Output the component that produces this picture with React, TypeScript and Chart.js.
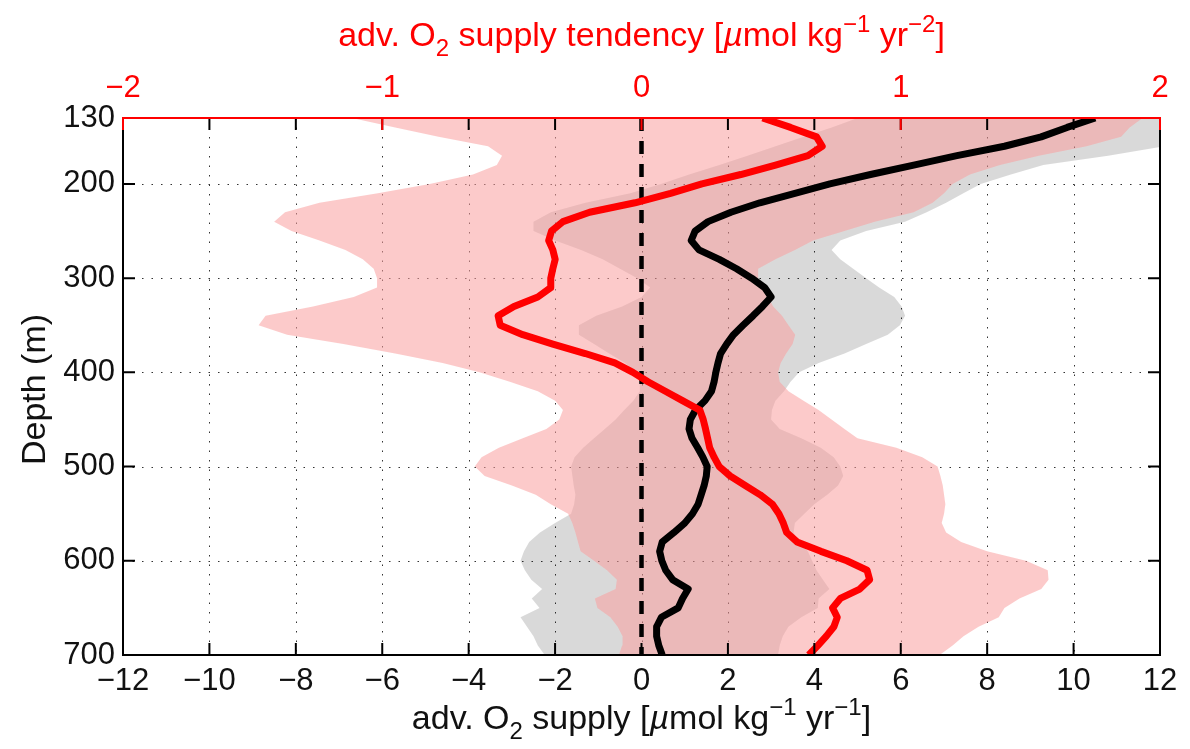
import React, { useEffect, useRef } from "react";
import { Chart, registerables } from "chart.js";

Chart.register(...registerables);

const FONT = '"Liberation Sans", Arial, Helvetica, sans-serif';
Chart.defaults.font.family = FONT;

// depth levels (m)
const depth = [
  130, 140, 150, 160, 170, 180, 190, 200, 210, 220, 230, 240, 250, 260, 270, 280, 290, 300, 310, 320,
  330, 340, 350, 360, 370, 380, 390, 400, 410, 420, 430, 440, 450, 460, 470, 480, 490, 500, 510, 520,
  530, 540, 550, 560, 570, 580, 590, 600, 610, 620, 630, 640, 650, 660, 670, 680, 690, 700,
];

// adv. O2 supply [umol kg-1 yr-1] (bottom axis): mean and spread
const supplyMean = [
  10.5, 9.85, 9.25, 8.4, 7.3, 6.3, 5.3, 4.36, 3.55, 2.74, 2.07, 1.54, 1.24, 1.15, 1.33, 1.8, 2.2, 2.55, 2.85, 3.0,
  2.8, 2.58, 2.35, 2.13, 1.97, 1.83, 1.77, 1.72, 1.68, 1.62, 1.47, 1.25, 1.13, 1.1, 1.17, 1.3, 1.42, 1.52, 1.5, 1.45,
  1.38, 1.31, 1.18, 1.0, 0.75, 0.48, 0.42, 0.47, 0.56, 0.72, 1.08, 0.95, 0.85, 0.46, 0.35, 0.35, 0.4, 0.48,
];
const supplyLo = [
  5.0, 4.4, 3.75, 3.1, 2.45, 1.8, 1.1, 0.45, -0.26, -1.3, -2.1, -2.5, -2.5, -2.0, -1.4, -0.9, -0.5, -0.1, 0.2, 0.0,
  -0.45, -1.05, -1.45, -1.45, -1.1, -0.75, -0.38, -0.15, -0.04, -0.04, -0.19, -0.4, -0.6, -0.85, -1.1, -1.35, -1.55, -1.63, -1.6, -1.57,
  -1.53, -1.56, -1.63, -2.0, -2.35, -2.6, -2.72, -2.8, -2.7, -2.55, -2.3, -2.54, -2.36, -2.8, -2.65, -2.5, -2.4, -2.24,
];
const supplyHi = [
  12.5, 12.4, 12.2, 12.1, 10.8, 9.3, 8.55, 7.85, 7.45, 7.05, 6.6, 6.1, 5.2, 4.6, 4.4, 4.6, 4.9, 5.2, 5.5, 5.85,
  6.02, 6.1, 5.98, 5.7, 5.2, 4.7, 4.1, 3.65, 3.45, 3.3, 3.1, 3.02, 3.0, 3.2, 3.7, 4.15, 4.45, 4.6, 4.67, 4.55,
  4.3, 4.0, 3.77, 3.55, 3.52, 3.65, 3.85, 3.95, 4.05, 4.2, 4.35, 4.1, 4.08, 3.7, 3.4, 3.27, 3.2, 3.16,
];

// adv. O2 supply tendency [umol kg-1 yr-2] (top axis): mean and spread
const tendMean = [
  0.467, 0.575, 0.675, 0.697, 0.642, 0.517, 0.383, 0.233, 0.112, -0.025, -0.2, -0.303, -0.347, -0.358, -0.342, -0.333, -0.342, -0.35, -0.35, -0.4,
  -0.492, -0.553, -0.545, -0.458, -0.342, -0.217, -0.103, -0.033, 0.025, 0.092, 0.158, 0.225, 0.238, 0.247, 0.255, 0.263, 0.28, 0.3, 0.342, 0.4,
  0.458, 0.505, 0.53, 0.547, 0.56, 0.6, 0.692, 0.792, 0.87, 0.88, 0.842, 0.767, 0.737, 0.755, 0.742, 0.713, 0.68, 0.645,
];
const tendLo = [
  -1.117, -0.95, -0.783, -0.592, -0.538, -0.558, -0.65, -0.817, -1.017, -1.242, -1.375, -1.417, -1.35, -1.242, -1.142, -1.075, -1.033, -1.02, -1.02, -1.11,
  -1.267, -1.45, -1.477, -1.367, -1.15, -0.95, -0.767, -0.625, -0.508, -0.4, -0.333, -0.303, -0.317, -0.367, -0.458, -0.55, -0.617, -0.643, -0.605, -0.5,
  -0.408, -0.35, -0.283, -0.267, -0.255, -0.245, -0.235, -0.183, -0.133, -0.095, -0.1, -0.18, -0.17, -0.12, -0.092, -0.073, -0.075, -0.087,
];
const tendHi = [
  1.933, 1.883, 1.85, 1.717, 1.533, 1.383, 1.267, 1.2, 1.167, 1.123, 1.05, 0.9, 0.783, 0.662, 0.592, 0.517, 0.45, 0.45, 0.467, 0.488,
  0.508, 0.542, 0.567, 0.593, 0.583, 0.558, 0.537, 0.527, 0.533, 0.567, 0.625, 0.683, 0.733, 0.783, 0.833, 0.983, 1.083, 1.142, 1.153, 1.162,
  1.167, 1.172, 1.167, 1.158, 1.175, 1.233, 1.333, 1.483, 1.567, 1.57, 1.542, 1.458, 1.4, 1.378, 1.3, 1.242, 1.2, 1.15,
];

const depthTicks = [130, 200, 300, 400, 500, 600, 700];
const zeroX = [0, 0];
const zeroDepth = [130, 700];

const RED = "#ff0000";
const GRAY_FILL = "rgba(0,0,0,0.15)";
const PINK_FILL = "rgba(249,159,159,0.55)";

type Run = { t: string; sub?: boolean; sup?: boolean; it?: boolean };

const topTitle: Run[] = [
  { t: "adv. O" }, { t: "2", sub: true }, { t: " supply tendency [" }, { t: "\u00b5", it: true },
  { t: "mol kg" }, { t: "\u22121", sup: true }, { t: " yr" }, { t: "\u22122", sup: true }, { t: "]" },
];
const bottomTitle: Run[] = [
  { t: "adv. O" }, { t: "2", sub: true }, { t: " supply [" }, { t: "\u00b5", it: true },
  { t: "mol kg" }, { t: "\u22121", sup: true }, { t: " yr" }, { t: "\u22121", sup: true }, { t: "]" },
];
const leftTitle: Run[] = [{ t: "Depth (m)" }];

const pts = (xs: number[], ys: number[] = depth) => xs.map((x, i) => ({ x, y: ys[i] }));
const minus = (v: string | number) => String(v).replace("-", "\u2212");

function drawRuns(ctx: CanvasRenderingContext2D, runs: Run[], x: number, y: number, size: number, color: string, angle = 0) {
  const font = (r: Run) => `${r.it ? "italic " : ""}${r.sub || r.sup ? Math.round(size * 0.72) : size}px ${FONT}`;
  ctx.save();
  ctx.translate(x, y);
  ctx.rotate(angle);
  ctx.fillStyle = color;
  ctx.textBaseline = "alphabetic";
  ctx.textAlign = "left";
  let w = 0;
  runs.forEach((r) => {
    ctx.font = font(r);
    w += ctx.measureText(r.t).width;
  });
  let cx = -w / 2;
  runs.forEach((r) => {
    ctx.font = font(r);
    const dy = r.sub ? size * 0.3 : r.sup ? -size * 0.42 : 0;
    ctx.fillText(r.t, cx, dy);
    cx += ctx.measureText(r.t).width;
  });
  ctx.restore();
}

// matlab-like axes: dotted grid under the data, inward ticks and box on top
const axesBox = {
  id: "axesBox",
  beforeDatasetsDraw(chart: any) {
    const { ctx, chartArea: a, scales } = chart;
    ctx.save();
    ctx.strokeStyle = "#333";
    ctx.lineWidth = 1;
    ctx.setLineDash([1.5, 8]);
    ctx.beginPath();
    scales.x.ticks.forEach((t: any) => {
      const p = Math.round(scales.x.getPixelForValue(t.value)) + 0.5;
      if (p < a.left + 2 || p > a.right - 2) return;
      ctx.moveTo(p, a.top);
      ctx.lineTo(p, a.bottom);
    });
    scales.y.ticks.forEach((t: any) => {
      const p = Math.round(scales.y.getPixelForValue(t.value)) + 0.5;
      if (p < a.top + 2 || p > a.bottom - 2) return;
      ctx.moveTo(a.left, p);
      ctx.lineTo(a.right, p);
    });
    ctx.stroke();
    ctx.restore();
  },
  afterDatasetsDraw(chart: any) {
    const { ctx, chartArea: a, scales } = chart;
    const L = 12;
    ctx.save();
    ctx.lineWidth = 2;
    ctx.strokeStyle = "#000";
    ctx.beginPath();
    scales.x.ticks.forEach((t: any) => {
      const p = scales.x.getPixelForValue(t.value);
      ctx.moveTo(p, a.bottom);
      ctx.lineTo(p, a.bottom - L);
      ctx.moveTo(p, a.top);
      ctx.lineTo(p, a.top + L);
    });
    scales.y.ticks.forEach((t: any) => {
      const p = scales.y.getPixelForValue(t.value);
      ctx.moveTo(a.left, p);
      ctx.lineTo(a.left + L, p);
      ctx.moveTo(a.right, p);
      ctx.lineTo(a.right - L, p);
    });
    ctx.stroke();
    ctx.beginPath();
    ctx.moveTo(a.left, a.top);
    ctx.lineTo(a.left, a.bottom);
    ctx.lineTo(a.right, a.bottom);
    ctx.lineTo(a.right, a.top);
    ctx.stroke();
    ctx.strokeStyle = RED;
    ctx.beginPath();
    scales.x2.ticks.forEach((t: any) => {
      const p = scales.x2.getPixelForValue(t.value);
      ctx.moveTo(p, a.top);
      ctx.lineTo(p, a.top + L);
    });
    ctx.moveTo(a.left - 1, a.top);
    ctx.lineTo(a.right + 1, a.top);
    ctx.stroke();
    ctx.restore();
  },
  afterDraw(chart: any) {
    const { ctx, chartArea: a } = chart;
    const mid = (a.left + a.right) / 2;
    drawRuns(ctx, topTitle, mid, 46, 34, RED);
    drawRuns(ctx, bottomTitle, mid, 729, 34, "#111");
    drawRuns(ctx, leftTitle, 45, (a.top + a.bottom) / 2 + 3, 34, "#111", -Math.PI / 2);
  },
};

const band = { pointRadius: 0, borderWidth: 0, borderColor: "transparent", tension: 0 };

export default function App() {
  const canvasRef = useRef<HTMLCanvasElement | null>(null);

  useEffect(() => {
    if (!canvasRef.current) return;
    const chart = new Chart(canvasRef.current, {
      type: "line",
      data: {
        datasets: [
          { data: pts(tendMean), xAxisID: "x2", yAxisID: "y", borderColor: RED, borderWidth: 7, pointRadius: 0, fill: false, borderJoinStyle: "round" },
          { data: pts(supplyMean), xAxisID: "x", yAxisID: "y", borderColor: "#000", borderWidth: 7, pointRadius: 0, fill: false, borderJoinStyle: "round" },
          { data: pts(zeroX, zeroDepth), xAxisID: "x", yAxisID: "y", borderColor: "#000", borderWidth: 4.5, borderDash: [13, 10], pointRadius: 0, fill: false },
          { data: pts(tendLo), xAxisID: "x2", yAxisID: "y", ...band, fill: false },
          { data: pts(tendHi), xAxisID: "x2", yAxisID: "y", ...band, fill: 3, backgroundColor: PINK_FILL },
          { data: pts(supplyLo), xAxisID: "x", yAxisID: "y", ...band, fill: false },
          { data: pts(supplyHi), xAxisID: "x", yAxisID: "y", ...band, fill: 5, backgroundColor: GRAY_FILL },
        ] as any,
      },
      options: {
        animation: false,
        responsive: true,
        maintainAspectRatio: false,
        indexAxis: "y",
        events: [],
        layout: { padding: { left: 0, right: 30, top: 0, bottom: 0 } },
        plugins: { legend: { display: false }, tooltip: { enabled: false } },
        scales: {
          x: {
            type: "linear",
            position: "bottom",
            min: -12,
            max: 12,
            grid: { display: false, drawTicks: false },
            border: { display: false },
            ticks: { stepSize: 2, color: "#111", font: { size: 31 }, padding: 8, callback: (v: any) => minus(v) },
            afterFit: (s: any) => { s.height = 94; },
          },
          x2: {
            type: "linear",
            position: "top",
            min: -2,
            max: 2,
            grid: { display: false, drawTicks: false },
            border: { display: false },
            ticks: { stepSize: 1, color: RED, font: { size: 31 }, padding: 11, callback: (v: any) => minus(v) },
            afterFit: (s: any) => { s.height = 118; },
          },
          y: {
            type: "linear",
            position: "left",
            reverse: true,
            min: 130,
            max: 700,
            grid: { display: false, drawTicks: false },
            border: { display: false },
            afterBuildTicks: (s: any) => { s.ticks = depthTicks.map((value) => ({ value })); },
            ticks: { color: "#111", font: { size: 31 }, padding: 8 },
            afterFit: (s: any) => { s.width = 123; },
          },
        },
      } as any,
      plugins: [axesBox],
    });
    return () => chart.destroy();
  }, []);

  return (
    <div style={{ position: "fixed", left: 0, top: 0, width: 1190, height: 749, background: "#fff" }}>
      <canvas ref={canvasRef} />
    </div>
  );
}
